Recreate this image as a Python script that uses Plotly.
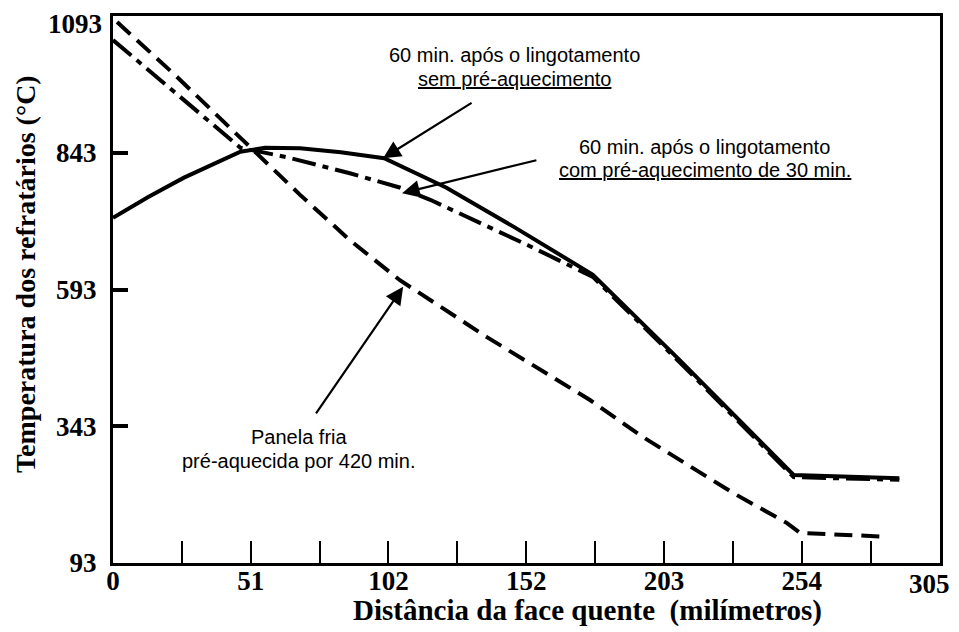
import plotly.graph_objects as go

# Data (mm, °C)
x_sem = [0, 13, 26, 38, 47, 56, 69, 84, 100, 123, 148, 177, 209, 251, 290]
y_sem = [724, 762, 797, 825, 845, 852, 851, 844, 833, 779, 707, 620, 464, 254, 248]

x_com = [0, 20, 47, 64, 87, 106, 117, 153, 177, 209, 251, 290]
y_com = [1049, 965, 852, 835, 806, 779, 757, 674, 616, 460, 250, 245]

x_fria = [1.5, 22.9, 47.9, 69, 87.4, 105.8, 137.9, 175.9, 195.5, 228.7, 248.6, 253.4, 285.5]
y_fria = [1082, 985, 866, 766, 683, 610, 506, 391, 323, 221, 166, 148, 141]

x_tickvals = [0, 25.4, 50.8, 76.2, 101.6, 127, 152.4, 177.8, 203.2, 228.6, 254, 279.4, 304.8]
x_ticktext = ["0", "", "51", "", "102", "", "152", "", "203", "", "254", "", ""]
y_tickvals = [93, 343, 593, 843, 1093]
y_ticktext = ["93", "343", "593", "843", ""]
x_last_label = (304.8, "305")    # drawn as annotation, nudged inward like the reference
y_last_label = (1093, "1093")

x_title = "Distância da face quente  (milímetros)"
y_title = "Temperatura dos refratários (°C)"

fig = go.Figure()
fig.add_trace(go.Scatter(x=x_sem, y=y_sem, mode="lines",
                         line=dict(color="black", width=4), showlegend=False))
fig.add_trace(go.Scatter(x=x_com, y=y_com, mode="lines",
                         line=dict(color="black", width=4, dash="24px,7px,6px,7px"), showlegend=False))
fig.add_trace(go.Scatter(x=x_fria, y=y_fria, mode="lines",
                         line=dict(color="black", width=4, dash="18px,9px"), showlegend=False))

txt_font = dict(family="Liberation Sans, Arial", size=20, color="black")
texts = [
    (147.9, 1022, "60 min. após o lingotamento"),
    (147.9, 977, "<u>sem pré-aquecimento</u>"),
    (218.3, 853, "60 min. após o lingotamento"),
    (218.3, 811, "<u>com pré-aquecimento de 30 min.</u>"),
    (68.5, 323, "Panela fria"),
    (68.5, 279, "pré-aquecida por 420 min."),
]
for tx, ty, t in texts:
    fig.add_annotation(x=tx, y=ty, xref="x", yref="y", text=t, showarrow=False,
                       font=txt_font, xanchor="center", yanchor="middle")

arrows = [
    (99.6, 833, 132.8, 936),
    (106.6, 769, 156.7, 830),
    (107.0, 598, 74.5, 364),
]
for hx, hy, tx, ty in arrows:
    fig.add_annotation(x=hx, y=hy, ax=tx, ay=ty, xref="x", yref="y", axref="x", ayref="y",
                       text="", showarrow=True, arrowhead=2, arrowsize=1.6, arrowwidth=2.2,
                       arrowcolor="black")

tick_font = dict(family="Liberation Serif", size=27, color="black", weight="bold")
xtitle_font = dict(family="Liberation Serif", size=29, color="black", weight="bold")
ytitle_font = dict(family="Liberation Serif", size=28, color="black", weight="bold")

# end labels that would otherwise overflow the page
fig.add_annotation(x=x_last_label[0], y=0, xref="x", yref="paper", text=x_last_label[1],
                   showarrow=False, font=tick_font, xanchor="center", yanchor="middle",
                   xshift=-10, yshift=-21)
fig.add_annotation(x=0, y=y_last_label[0], xref="paper", yref="y", text=y_last_label[1],
                   showarrow=False, font=tick_font, xanchor="right", yanchor="middle",
                   xshift=-9, yshift=-8)

# page body has an 8px margin; the plot area spans x 113..940, y 16..563 in the window
PW, PH = 827, 547
fig.add_annotation(x=(587 - 113) / PW, y=-(610 - 563) / PH, xref="paper", yref="paper",
                   text=x_title, showarrow=False, font=xtitle_font,
                   xanchor="center", yanchor="middle")
fig.add_annotation(x=-(113 - 25) / PW, y=(563 - 274) / PH, xref="paper", yref="paper",
                   text=y_title, showarrow=False, font=ytitle_font, textangle=-90,
                   xanchor="center", yanchor="middle")

fig.update_layout(
    width=951, height=624,
    margin=dict(l=105, r=19, t=8, b=69),
    paper_bgcolor="white", plot_bgcolor="white",
    xaxis=dict(range=[0, 305], tickvals=x_tickvals, ticktext=x_ticktext,
               ticks="inside", ticklen=22, tickwidth=2, tickcolor="black",
               showline=True, linecolor="black", linewidth=3, mirror=True,
               showgrid=False, zeroline=False, tickfont=tick_font, ticklabelstandoff=-8,
               ticklabeloverflow="allow", automargin=False),
    yaxis=dict(range=[93, 1093], tickvals=y_tickvals, ticktext=y_ticktext,
               ticks="inside", ticklen=15, tickwidth=4, tickcolor="black",
               showline=True, linecolor="black", linewidth=3, mirror=True,
               showgrid=False, zeroline=False, tickfont=tick_font, ticklabelstandoff=8,
               ticklabeloverflow="allow", automargin=False),
)

fig.write_html("out.html")
